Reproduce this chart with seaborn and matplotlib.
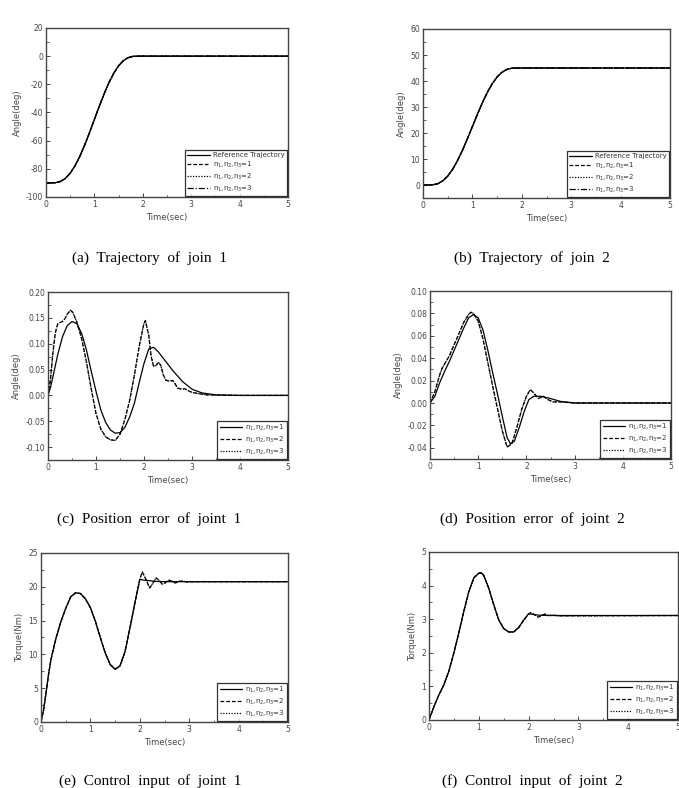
import seaborn as sns
import matplotlib
matplotlib.use("Agg")
import matplotlib.pyplot as plt
from matplotlib.ticker import MultipleLocator, FormatStrFormatter
import pandas as pd

sns.set_style("ticks")
plt.rcParams['font.family'] = ['DejaVu Sans']

# ---- (a)/(b) trajectories ----
t_traj = [0, 0.1, 0.2, 0.3, 0.4, 0.5, 0.6, 0.7, 0.8, 0.9, 1.0, 1.1, 1.2, 1.3, 1.4,
          1.5, 1.6, 1.7, 1.8, 1.9, 2.5, 3.0, 3.5, 4.0, 4.5, 5.0]
traj1 = [-90, -90, -89.86, -88.96, -86.81, -83.12, -77.86, -71.11, -63.14, -54.31,
         -45.0, -35.69, -26.86, -18.89, -12.14, -6.88, -3.19, -1.04, -0.14, 0,
         0, 0, 0, 0, 0, 0]
traj2 = [0, 0, 0.07, 0.52, 1.60, 3.44, 6.07, 9.45, 13.43, 17.85, 22.5, 27.15,
         31.57, 35.55, 38.93, 41.56, 43.40, 44.48, 44.93, 45, 45, 45, 45, 45, 45, 45]

# ---- (c) position error joint 1 ----
t_e1a = [0, 0.05, 0.1, 0.2, 0.3, 0.4, 0.5, 0.6, 0.7, 0.8, 0.9, 1.0, 1.1, 1.2, 1.3,
         1.4, 1.5, 1.6, 1.7, 1.8, 1.9, 2.0, 2.1, 2.2, 2.3, 2.4, 2.5, 2.6, 2.8, 3.0,
         3.2, 3.5, 4.0, 5.0]
err1_n1 = [0, 0.015, 0.035, 0.078, 0.113, 0.135, 0.143, 0.139, 0.120, 0.088, 0.047,
           0.008, -0.028, -0.052, -0.067, -0.073, -0.072, -0.062, -0.042, -0.015,
           0.025, 0.062, 0.090, 0.093, 0.084, 0.072, 0.060, 0.048, 0.027, 0.012,
           0.005, 0.001, 0, 0]
t_e1b = [0, 0.05, 0.1, 0.15, 0.2, 0.25, 0.3, 0.35, 0.4, 0.47, 0.52, 0.6, 0.7, 0.8,
         0.9, 1.0, 1.1, 1.2, 1.3, 1.4, 1.5, 1.6, 1.7, 1.8, 1.9, 2.0, 2.03, 2.1, 2.15,
         2.2, 2.25, 2.3, 2.35, 2.4, 2.45, 2.5, 2.55, 2.6, 2.65, 2.7, 2.8, 2.85, 2.9,
         3.0, 3.1, 3.3, 4.0, 5.0]
err1_n2 = [0, 0.03, 0.08, 0.12, 0.138, 0.141, 0.143, 0.148, 0.157, 0.165, 0.160,
           0.142, 0.110, 0.065, 0.013, -0.035, -0.065, -0.080, -0.086, -0.087,
           -0.075, -0.047, -0.010, 0.040, 0.095, 0.140, 0.145, 0.115, 0.075, 0.056,
           0.058, 0.064, 0.058, 0.040, 0.030, 0.028, 0.028, 0.029, 0.022, 0.014,
           0.012, 0.013, 0.010, 0.006, 0.004, 0.001, 0, 0]
err1_n3 = list(err1_n2)

# ---- (d) position error joint 2 ----
t_e2a = [0, 0.1, 0.2, 0.3, 0.4, 0.5, 0.6, 0.7, 0.8, 0.9, 1.0, 1.1, 1.2, 1.3, 1.4,
         1.5, 1.6, 1.67, 1.75, 1.85, 1.95, 2.05, 2.15, 2.3, 2.5, 2.7, 3.0, 5.0]
err2_n1 = [0, 0.006, 0.018, 0.028, 0.037, 0.047, 0.057, 0.067, 0.076, 0.079, 0.076,
           0.065, 0.047, 0.027, 0.008, -0.012, -0.031, -0.0365, -0.034, -0.022,
           -0.008, 0.003, 0.006, 0.006, 0.004, 0.0015, 0, 0]
t_e2b = [0, 0.1, 0.2, 0.25, 0.4, 0.5, 0.6, 0.7, 0.8, 0.85, 0.9, 1.0, 1.1, 1.2, 1.3,
         1.4, 1.5, 1.6, 1.7, 1.8, 1.9, 2.0, 2.08, 2.15, 2.25, 2.35, 2.45, 2.55, 2.7,
         3.0, 5.0]
err2_n2 = [0, 0.010, 0.025, 0.031, 0.042, 0.052, 0.062, 0.072, 0.079, 0.081, 0.080,
           0.073, 0.057, 0.036, 0.015, -0.005, -0.025, -0.0395, -0.036, -0.022,
           -0.006, 0.006, 0.012, 0.009, 0.004, 0.006, 0.003, 0.001, 0.001, 0, 0]
err2_n3 = list(err2_n2)

# ---- (e) control input joint 1 ----
t_u1a = [0, 0.05, 0.1, 0.15, 0.2, 0.3, 0.4, 0.5, 0.6, 0.7, 0.8, 0.9, 1.0, 1.1, 1.2,
         1.3, 1.4, 1.5, 1.6, 1.7, 1.8, 1.9, 2.0, 2.1, 2.2, 2.3, 2.5, 3.0, 5.0]
tq1_n1 = [0, 1.7, 4.2, 6.9, 9.2, 12.3, 14.8, 16.8, 18.5, 19.1, 19.0, 18.2, 16.9,
          14.9, 12.5, 10.2, 8.5, 7.8, 8.3, 10.4, 13.9, 17.6, 21.1, 20.95, 20.9,
          20.8, 20.75, 20.75, 20.75]
t_u1b = [0, 0.05, 0.1, 0.15, 0.2, 0.3, 0.4, 0.5, 0.6, 0.7, 0.8, 0.9, 1.0, 1.1, 1.2,
         1.3, 1.4, 1.5, 1.6, 1.7, 1.8, 1.9, 2.0, 2.05, 2.13, 2.2, 2.27, 2.33, 2.4,
         2.45, 2.52, 2.58, 2.65, 2.72, 2.8, 2.87, 2.95, 3.1, 5.0]
tq1_n2 = [0, 1.7, 4.2, 6.9, 9.2, 12.3, 14.8, 16.8, 18.5, 19.1, 19.0, 18.2, 16.9,
          14.9, 12.5, 10.2, 8.5, 7.8, 8.3, 10.4, 13.9, 17.6, 21.1, 22.2, 21.0, 19.8,
          20.6, 21.3, 20.9, 20.4, 20.6, 21.0, 20.8, 20.55, 20.8, 20.85, 20.7, 20.75,
          20.75]
tq1_n3 = list(tq1_n2)

# ---- (f) control input joint 2 ----
t_u2a = [0, 0.1, 0.2, 0.3, 0.4, 0.5, 0.6, 0.7, 0.8, 0.9, 1.0, 1.05, 1.1, 1.2, 1.3,
         1.4, 1.5, 1.6, 1.7, 1.8, 1.9, 2.0, 2.1, 2.2, 2.4, 5.0]
tq2_n1 = [0, 0.40, 0.75, 1.05, 1.46, 2.0, 2.6, 3.24, 3.82, 4.23, 4.37, 4.38, 4.30,
          3.92, 3.43, 2.98, 2.72, 2.62, 2.62, 2.75, 2.97, 3.16, 3.14, 3.12, 3.11,
          3.11]
t_u2b = [0, 0.1, 0.2, 0.3, 0.4, 0.5, 0.6, 0.7, 0.8, 0.9, 1.0, 1.05, 1.1, 1.2, 1.3,
         1.4, 1.5, 1.6, 1.7, 1.8, 1.9, 2.0, 2.05, 2.15, 2.2, 2.27, 2.33, 2.4, 2.5,
         2.6, 5.0]
tq2_n2 = [0, 0.40, 0.75, 1.05, 1.46, 2.0, 2.6, 3.24, 3.82, 4.23, 4.37, 4.38, 4.30,
          3.92, 3.43, 2.98, 2.72, 2.62, 2.62, 2.75, 2.97, 3.16, 3.2, 3.1, 3.06,
          3.12, 3.15, 3.11, 3.12, 3.1, 3.11]
tq2_n3 = list(tq2_n2)

lab1 = 'n$_1$,n$_2$,n$_3$=1'
lab2 = 'n$_1$,n$_2$,n$_3$=2'
lab3 = 'n$_1$,n$_2$,n$_3$=3'

SOLID = '-'
DASH = (0, (3, 1.6))
DOT = (0, (1, 1.2))
DASHDOT = (0, (5, 1.5, 1, 1.5))

fig = plt.figure(figsize=(6.79, 7.88), dpi=100)

def style_axes(ax, xlabel, ylabel, ylim, ymaj, fmt):
    ax.set_xlim(0, 5)
    ax.set_ylim(*ylim)
    ax.xaxis.set_major_locator(MultipleLocator(1))
    ax.xaxis.set_minor_locator(MultipleLocator(0.5))
    ax.yaxis.set_major_locator(MultipleLocator(ymaj))
    ax.yaxis.set_minor_locator(MultipleLocator(ymaj / 2))
    ax.yaxis.set_major_formatter(FormatStrFormatter(fmt))
    ax.tick_params(which='both', direction='in', colors='#444444', labelsize=5.5,
                   top=False, right=False, pad=2)
    ax.tick_params(which='major', length=3, width=0.7)
    ax.tick_params(which='minor', length=1.8, width=0.6)
    for s in ax.spines.values():
        s.set_color('#444444')
        s.set_linewidth(1.0)
    ax.set_xlabel(xlabel, fontsize=6, color='#444444', labelpad=3)
    ax.set_ylabel(ylabel, fontsize=6, color='#444444', labelpad=3)

def draw(ax, series):
    for t, y, ls, lab in series:
        sns.lineplot(x=t, y=y, ax=ax, color='k', linewidth=0.9, linestyle=ls,
                     label=lab, estimator=None)
    leg = ax.legend(loc='lower right', fontsize=5, frameon=True, fancybox=False,
                    edgecolor='black', handlelength=3.2, borderaxespad=0.15,
                    labelspacing=0.25, handletextpad=0.5, borderpad=0.3)
    leg.get_frame().set_linewidth(0.9)
    for txt in leg.get_texts():
        txt.set_color('#333333')

# (a)
ax = fig.add_axes([0.0677, 0.750, 0.3564, 0.2145])
draw(ax, [(t_traj, traj1, SOLID, 'Reference Trajectory'),
          (t_traj, traj1, DASH, lab1),
          (t_traj, traj1, DOT, lab2),
          (t_traj, traj1, DASHDOT, lab3)])
style_axes(ax, 'Time(sec)', 'Angle(deg)', (-100, 20), 20, '%d')

# (b)
ax = fig.add_axes([0.623, 0.7487, 0.3638, 0.2145])
draw(ax, [(t_traj, traj2, SOLID, 'Reference Trajectory'),
          (t_traj, traj2, DASH, lab1),
          (t_traj, traj2, DOT, lab2),
          (t_traj, traj2, DASHDOT, lab3)])
style_axes(ax, 'Time(sec)', 'Angle(deg)', (-5, 60), 10, '%d')

# (c)
ax = fig.add_axes([0.0707, 0.4162, 0.3535, 0.2132])
draw(ax, [(t_e1a, err1_n1, SOLID, lab1),
          (t_e1b, err1_n2, DASH, lab2),
          (t_e1b, err1_n3, DOT, lab3)])
style_axes(ax, 'Time(sec)', 'Angle(deg)', (-0.125, 0.20), 0.05, '%.2f')

# (d)
ax = fig.add_axes([0.6333, 0.4175, 0.355, 0.2132])
draw(ax, [(t_e2a, err2_n1, SOLID, lab1),
          (t_e2b, err2_n2, DASH, lab2),
          (t_e2b, err2_n3, DOT, lab3)])
style_axes(ax, 'Time(sec)', 'Angle(deg)', (-0.05, 0.10), 0.02, '%.2f')

# (e)
ax = fig.add_axes([0.0604, 0.0838, 0.3638, 0.2145])
draw(ax, [(t_u1a, tq1_n1, SOLID, lab1),
          (t_u1b, tq1_n2, DASH, lab2),
          (t_u1b, tq1_n3, DOT, lab3)])
style_axes(ax, 'Time(sec)', 'Torque(Nm)', (0, 25), 5, '%d')

# (f)
ax = fig.add_axes([0.6318, 0.0863, 0.3668, 0.2132])
draw(ax, [(t_u2a, tq2_n1, SOLID, lab1),
          (t_u2b, tq2_n2, DASH, lab2),
          (t_u2b, tq2_n3, DOT, lab3)])
style_axes(ax, 'Time(sec)', 'Torque(Nm)', (0, 5), 1, '%d')

captions = [(149, 258, '(a)  Trajectory  of  join  1'),
            (532, 258, '(b)  Trajectory  of  join  2'),
            (149, 519, '(c)  Position  error  of  joint  1'),
            (532, 519, '(d)  Position  error  of  joint  2'),
            (150, 781, '(e)  Control  input  of  joint  1'),
            (532, 781, '(f)  Control  input  of  joint  2')]
for x, y, s in captions:
    fig.text(x / 679, 1 - y / 788, s, ha='center', va='center', fontsize=11,
             family=['Liberation Serif', 'DejaVu Serif'], color='black')

fig.savefig('out.png', dpi=100)
